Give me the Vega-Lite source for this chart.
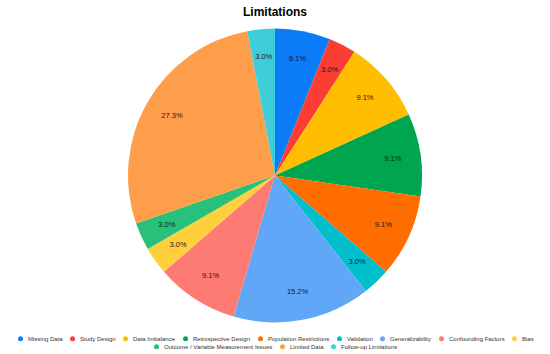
{
  "$schema": "https://vega.github.io/schema/vega-lite/v6.json",
  "width": 550,
  "height": 354,
  "autosize": {"type": "fit", "contains": "padding"},
  "padding": {"top": 6, "bottom": 4, "left": 0, "right": 0},
  "background": "white",
  "title": {"text": "Limitations", "font": "Liberation Sans", "fontSize": 12, "fontWeight": "bold", "color": "#000000", "offset": 5},
  "data": {"values": [
    {"idx": 1, "category": "Missing Data", "count": 2, "label": "6.1%", "row": 1},
    {"idx": 2, "category": "Study Design", "count": 1, "label": "3.0%", "row": 1},
    {"idx": 3, "category": "Data Imbalance", "count": 3, "label": "9.1%", "row": 1},
    {"idx": 4, "category": "Retrospective Design", "count": 3, "label": "9.1%", "row": 1},
    {"idx": 5, "category": "Population Restrictions", "count": 3, "label": "9.1%", "row": 1},
    {"idx": 6, "category": "Validation", "count": 1, "label": "3.0%", "row": 1},
    {"idx": 7, "category": "Generalizability", "count": 5, "label": "15.2%", "row": 1},
    {"idx": 8, "category": "Confounding Factors", "count": 3, "label": "9.1%", "row": 1},
    {"idx": 9, "category": "Bias", "count": 1, "label": "3.0%", "row": 1},
    {"idx": 10, "category": "Outcome / Variable Measurement Issues", "count": 1, "label": "3.0%", "row": 2},
    {"idx": 11, "category": "Limited Data", "count": 9, "label": "27.3%", "row": 2},
    {"idx": 12, "category": "Follow-up Limitations", "count": 1, "label": "3.0%", "row": 2}
  ]},
  "layer": [
    {
      "mark": {"type": "arc", "outerRadius": 147},
      "encoding": {
        "theta": {"field": "count", "type": "quantitative", "stack": true},
        "order": {"field": "idx", "type": "quantitative"},
        "color": {
          "field": "category", "type": "nominal",
          "scale": {
            "domain": ["Missing Data", "Study Design", "Data Imbalance", "Retrospective Design", "Population Restrictions", "Validation", "Generalizability", "Confounding Factors", "Bias", "Outcome / Variable Measurement Issues", "Limited Data", "Follow-up Limitations"],
            "range": ["#0a7cf7", "#fc3d33", "#ffbf00", "#00a64f", "#ff6c00", "#00bfcb", "#60a8f7", "#fd7b72", "#ffd03c", "#27c17c", "#ff9e4a", "#3dced9"]
          },
          "legend": null
        }
      }
    },
    {
      "mark": {"type": "text", "radius": 119, "font": "Liberation Sans", "fontSize": 7.5, "color": "#1a1a1a"},
      "encoding": {
        "theta": {"field": "count", "type": "quantitative", "stack": true},
        "order": {"field": "idx", "type": "quantitative"},
        "text": {"field": "label", "type": "nominal"}
      }
    },
    {
      "transform": [{"filter": "datum.row == 1"}],
      "mark": {"type": "circle", "opacity": 0},
      "encoding": {
        "color": {
          "field": "category", "type": "nominal",
          "scale": {
            "domain": ["Missing Data", "Study Design", "Data Imbalance", "Retrospective Design", "Population Restrictions", "Validation", "Generalizability", "Confounding Factors", "Bias"],
            "range": ["#0a7cf7", "#fc3d33", "#ffbf00", "#00a64f", "#ff6c00", "#00bfcb", "#60a8f7", "#fd7b72", "#ffd03c"]
          },
          "legend": {"orient": "bottom", "direction": "horizontal", "title": null, "symbolType": "circle", "symbolSize": 25, "symbolOpacity": 1, "labelFont": "Liberation Sans", "labelFontSize": 6, "labelColor": "#333333", "labelOffset": 4, "columnPadding": 6, "offset": 8}
        }
      }
    },
    {
      "transform": [{"filter": "datum.row == 2"}],
      "mark": {"type": "circle", "opacity": 0},
      "encoding": {
        "fill": {
          "field": "category", "type": "nominal",
          "scale": {
            "domain": ["Outcome / Variable Measurement Issues", "Limited Data", "Follow-up Limitations"],
            "range": ["#27c17c", "#ff9e4a", "#3dced9"]
          },
          "legend": {"orient": "bottom", "direction": "horizontal", "title": null, "symbolType": "circle", "symbolSize": 25, "symbolOpacity": 1, "labelFont": "Liberation Sans", "labelFontSize": 6, "labelColor": "#333333", "labelOffset": 4, "columnPadding": 6, "offset": 8}
        }
      }
    }
  ],
  "resolve": {"scale": {"color": "independent", "fill": "independent"}},
  "config": {
    "view": {"stroke": null},
    "legend": {"layout": {"bottom": {"direction": "vertical", "anchor": "middle", "center": true, "margin": 1}}}
  }
}
